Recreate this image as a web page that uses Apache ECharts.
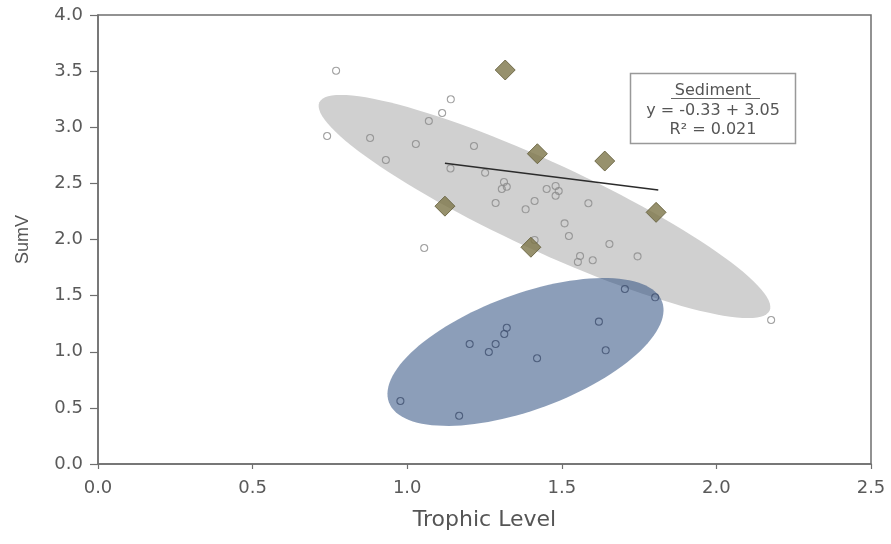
<!DOCTYPE html>
<html>
<head>
<meta charset="utf-8">
<script src="https://cdn.jsdelivr.net/npm/echarts@6/dist/echarts.min.js"></script>
<style>html,body{margin:0;padding:0;background:#fff;}#main{width:891px;height:544px;}</style>
</head>
<body>
<div id="main"></div>
<script>
// ---- data ----
const xTicks = [0.0, 0.5, 1.0, 1.5, 2.0, 2.5];
const yTicks = [0.0, 0.5, 1.0, 1.5, 2.0, 2.5, 3.0, 3.5, 4.0];

const sedimentCircles = [
  [0.770, 3.504], [1.141, 3.249], [1.113, 3.127], [1.070, 3.056], [0.741, 2.922],
  [0.880, 2.904], [1.028, 2.851], [1.216, 2.833], [0.931, 2.708], [1.140, 2.633],
  [1.252, 2.595], [1.313, 2.512], [1.306, 2.450], [1.322, 2.470], [1.451, 2.450],
  [1.480, 2.477], [1.490, 2.432], [1.480, 2.390], [1.286, 2.325], [1.412, 2.343],
  [1.383, 2.269], [1.586, 2.323], [1.509, 2.144], [1.523, 2.031], [1.412, 1.996],
  [1.055, 1.924], [1.654, 1.960], [1.559, 1.853], [1.552, 1.800], [1.600, 1.815],
  [1.745, 1.850], [2.177, 1.283]
];
const blueCircles = [
  [1.704, 1.559], [1.802, 1.485], [1.620, 1.268], [1.322, 1.214], [1.314, 1.158],
  [1.202, 1.069], [1.286, 1.069], [1.264, 0.998], [1.642, 1.013], [1.420, 0.942],
  [0.978, 0.561], [1.168, 0.430]
];
const diamonds = [
  [1.317, 3.510], [1.421, 2.764], [1.639, 2.699], [1.122, 2.297], [1.805, 2.242], [1.400, 1.931]
];
const regressionLine = [[1.122, 2.679], [1.812, 2.441]];

// ellipses: centre, semi-axis vector A, semi-axis vector B (data units)
const grayEllipse = { center: [1.444, 2.294], a: [0.728, -0.928], b: [0.0598, 0.356] };
const blueEllipse = { center: [1.3826, 0.998], a: [0.4418, 0.448], b: [0.0644, -0.483] };

const legendLines = ['Sediment', 'y = -0.33 + 3.05', 'R\u00b2 = 0.021'];

// ---- chart ----
const chart = echarts.init(document.getElementById('main'));

function ellipseSeries(el, color, opacity, z) {
  return {
    type: 'custom',
    z: z,
    silent: true,
    data: [0],
    renderItem: function (params, api) {
      const pts = [];
      const n = 120;
      for (let i = 0; i < n; i++) {
        const t = 2 * Math.PI * i / n;
        const c = Math.cos(t), s = Math.sin(t);
        pts.push(api.coord([
          el.center[0] + c * el.a[0] + s * el.b[0],
          el.center[1] + c * el.a[1] + s * el.b[1]
        ]));
      }
      return {
        type: 'polygon',
        shape: { points: pts },
        style: { fill: color, opacity: opacity }
      };
    }
  };
}

const axisColor = '#6f6f6f';
const FONT = '"DejaVu Sans", Verdana, sans-serif';
const labelStyle = { color: '#5a5a5a', fontSize: 18, fontFamily: FONT };

chart.setOption({
  animation: false,
  backgroundColor: '#fff',
  grid: { left: 98, right: 20, top: 15, bottom: 80, show: true, borderColor: axisColor, borderWidth: 1.5, backgroundColor: 'transparent' },
  xAxis: {
    type: 'value', min: 0, max: 2.5, interval: 0.5,
    name: 'Trophic Level', nameLocation: 'middle', nameGap: 45,
    nameTextStyle: { color: '#555', fontSize: 22, fontFamily: FONT },
    axisLine: { show: true, lineStyle: { color: axisColor, width: 1.5 } },
    axisTick: { show: true, length: 5, lineStyle: { color: axisColor, width: 1.2 } },
    axisLabel: Object.assign({ margin: 15, formatter: v => v.toFixed(1) }, labelStyle),
    splitLine: { show: false }
  },
  yAxis: {
    type: 'value', min: 0, max: 4, interval: 0.5,
    name: 'SumV', nameLocation: 'middle', nameGap: 66, nameRotate: 90,
    nameTextStyle: { color: '#555', fontSize: 18, fontFamily: 'Liberation Sans, Arial, sans-serif' },
    axisLine: { show: true, lineStyle: { color: axisColor, width: 1.5 } },
    axisTick: { show: true, length: 8, lineStyle: { color: axisColor, width: 1.2 } },
    axisLabel: Object.assign({ margin: 15, formatter: v => v.toFixed(1) }, labelStyle),
    splitLine: { show: false }
  },
  series: [
    ellipseSeries(grayEllipse, '#d0d0d0', 1, 1),
    ellipseSeries(blueEllipse, 'rgb(53,85,132)', 0.57, 2),
    {
      type: 'scatter', z: 3, data: sedimentCircles, symbol: 'circle', symbolSize: 7,
      itemStyle: { color: 'rgba(255,255,255,0)', borderColor: '#8a8a8a', borderWidth: 1.1 }
    },
    {
      type: 'scatter', z: 3, data: blueCircles, symbol: 'circle', symbolSize: 7,
      itemStyle: { color: 'rgba(255,255,255,0)', borderColor: '#3f4f6e', borderWidth: 1.1 }
    },
    {
      type: 'line', z: 4, data: regressionLine, symbol: 'none',
      lineStyle: { color: '#2b2b2b', width: 1.5 }
    },
    {
      type: 'scatter', z: 5, data: diamonds, symbol: 'diamond', symbolSize: 20,
      itemStyle: { color: '#7d7648', borderColor: '#5e5934', borderWidth: 1 }
    }
  ],
  graphic: [
    { type: 'rect', shape: { x: 630.5, y: 73.5, width: 165, height: 70 },
      style: { fill: '#fff', stroke: '#999', lineWidth: 1.5 }, z: 10 },
    { type: 'text', x: 713, y: 91, z: 11,
      style: { text: legendLines[0], fill: '#555', font: '16px "DejaVu Sans", sans-serif', align: 'center', verticalAlign: 'middle' } },
    { type: 'line', shape: { x1: 671, y1: 98.5, x2: 760, y2: 98.5 }, z: 11,
      style: { stroke: '#666', lineWidth: 1 } },
    { type: 'text', x: 713, y: 111, z: 11,
      style: { text: legendLines[1], fill: '#555', font: '16px "DejaVu Sans", sans-serif', align: 'center', verticalAlign: 'middle' } },
    { type: 'text', x: 713, y: 130, z: 11,
      style: { text: legendLines[2], fill: '#555', font: '16px "DejaVu Sans", sans-serif', align: 'center', verticalAlign: 'middle' } }
  ]
});
</script>
</body>
</html>
